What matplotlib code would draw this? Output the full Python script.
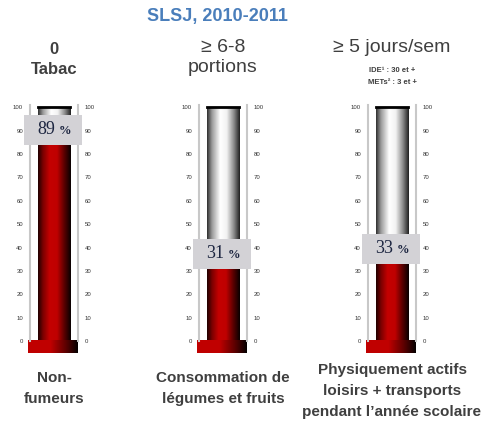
import numpy as np
import matplotlib.pyplot as plt
from matplotlib.colors import LinearSegmentedColormap
from matplotlib.patches import Rectangle

# Données
valeurs = [89, 31, 33]
etiquettes = ["89", "31", "33"]
titres = [["0", "Tabac"], ["≥ 6-8", "portions"], ["≥ 5 jours/sem"]]
sous_titre = ["IDE¹ : 30 et +", "METs² : 3 et +"]
legendes = [["Non-", "fumeurs"],
            ["Consommation de", "légumes et fruits"],
            ["Physiquement actifs", "loisirs + transports", "pendant l’année scolaire"]]
graduations = list(range(0, 101, 10))

plt.rcParams['font.family'] = ['Liberation Sans', 'DejaVu Sans']
gris_texte = '#3f3f3f'

rouge = LinearSegmentedColormap.from_list('rouge', [
    (0.0, '#200000'), (0.15, '#7a0000'), (0.35, '#c40000'),
    (0.58, '#bf0000'), (0.8, '#5a0000'), (1.0, '#080000')])
vide = LinearSegmentedColormap.from_list('vide', [
    (0.0, '#303030'), (0.15, '#9a9a9a'), (0.4, '#ffffff'),
    (0.6, '#f2f2f2'), (0.82, '#8a8a8a'), (1.0, '#202020')])
socle = LinearSegmentedColormap.from_list('socle', [
    (0.0, '#c00000'), (0.45, '#c00000'), (0.75, '#600000'), (1.0, '#050000')])
degrade = np.linspace(0, 1, 200).reshape(1, -1)

fig = plt.figure(figsize=(4.82, 4.28), dpi=100)
W, H = 482, 428
gauches = [30, 199, 368]
centres = [54, 223, 392]

for i, v in enumerate(valeurs):
    ax = fig.add_axes([gauches[i] / W, (H - 341) / H, 48 / W, 236 / H])
    x0, x1 = 0.16, 0.84
    # partie vide
    ax.imshow(degrade, cmap=vide, extent=(x0, x1, v, 100), aspect='auto', zorder=1)
    ax.plot([x0, x1], [100, 100], color='black', lw=2, zorder=3)
    # colonne rouge
    ax.imshow(degrade, cmap=rouge, extent=(x0, x1, 0, v), aspect='auto', zorder=2)
    # socle
    ax.imshow(degrade, cmap=socle, extent=(-0.04, 1.0, -5.2, 0), aspect='auto',
              zorder=2, clip_on=False)
    # boîte d'étiquette
    bas = min(v, 84)
    ax.add_patch(Rectangle((-0.12, bas), 1.2, 12.8, facecolor='#d3d2d6',
                           edgecolor='none', zorder=4, clip_on=False))
    ax.text(0.34, bas + 6.4, etiquettes[i], ha='center', va='center',
            family='Liberation Serif', fontsize=13, color='#1c2540', zorder=5)
    ax.text(0.73, bas + 6.0, '%', ha='center', va='center', fontweight='bold',
            family='Liberation Serif', fontsize=9, color='#1c2540', zorder=5)
    ax.set_xlim(0, 1)
    ax.set_ylim(0, 101)
    ax.set_yticks(graduations)
    ax.set_yticklabels([str(g) for g in graduations])
    ax.tick_params(axis='y', length=0, labelsize=4.3, labelcolor='#333333',
                   labelright=True, pad=5)
    ax.set_xticks([])
    for s in ['top', 'bottom']:
        ax.spines[s].set_visible(False)
    for s in ['left', 'right']:
        ax.spines[s].set_color('#c8c8c8')
        ax.spines[s].set_linewidth(1.5)

# en-têtes
fig.text(217 / W, 1 - 17 / H, 'SLSJ, 2010-2011', ha='center', va='center',
         fontsize=13, fontweight='bold', color='#4a7ebb')
fig.text(centres[0] / W, 1 - 50 / H, titres[0][0], ha='center', va='center',
         fontsize=12, fontweight='bold', color=gris_texte)
fig.text(centres[0] / W, 1 - 69 / H, titres[0][1], ha='center', va='center',
         fontsize=12, fontweight='bold', color=gris_texte)
fig.text(centres[1] / W, 1 - 48 / H, titres[1][0], ha='center', va='center',
         fontsize=14, color=gris_texte)
fig.text(centres[1] / W, 1 - 68 / H, titres[1][1], ha='center', va='center',
         fontsize=14, color=gris_texte)
fig.text(centres[2] / W, 1 - 47 / H, titres[2][0], ha='center', va='center',
         fontsize=14, color=gris_texte)
fig.text(centres[2] / W, 1 - 71 / H, sous_titre[0], ha='center', va='center',
         fontsize=5.5, fontweight='bold', color=gris_texte)
fig.text(centres[2] / W, 1 - 83 / H, sous_titre[1], ha='center', va='center',
         fontsize=5.5, fontweight='bold', color=gris_texte)

# légendes du bas
hauts = [378, 378, 370]
for i, lignes in enumerate(legendes):
    for j, t in enumerate(lignes):
        fig.text(centres[i] / W, 1 - (hauts[i] + j * 21) / H, t, ha='center',
                 va='center', fontsize=11, fontweight='bold', color=gris_texte)

fig.savefig('out.png', dpi=100)
